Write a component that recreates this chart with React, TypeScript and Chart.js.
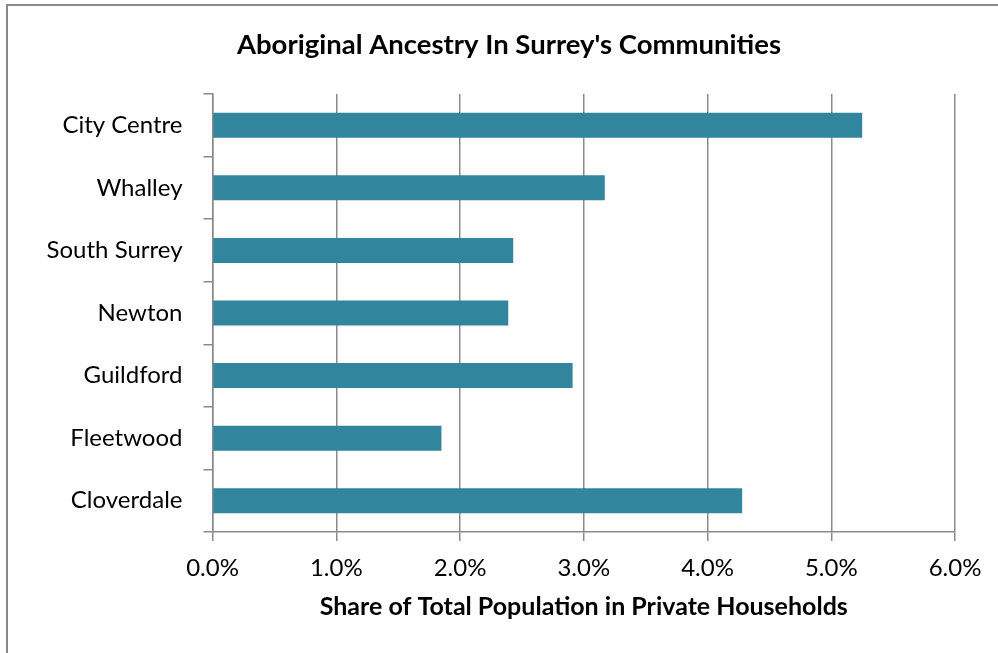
import React, { useEffect, useRef } from "react";
import { Chart, registerables } from "chart.js";

Chart.register(...registerables);

const communities = ["City Centre", "Whalley", "South Surrey", "Newton", "Guildford", "Fleetwood", "Cloverdale"];
const shares = [5.25, 3.17, 2.43, 2.39, 2.91, 1.85, 4.28];
const chartTitle = "Aboriginal Ancestry In Surrey's Communities";
const xAxisTitle = "Share of Total Population in Private Households";
const xMin = 0;
const xMax = 6;
const xStep = 1;

const FONT = "Lato, 'Open Sans', sans-serif";
const GRID = "#8a8a8a";

const frame = {
  id: "frame",
  afterLayout(chart: any) {
    // shift the title's box so that it is centred like the original
    if (chart.titleBlock) {
      chart.titleBlock.left = 63;
    }
  },
  beforeDraw(chart: any) {
    const { ctx, width, height } = chart;
    ctx.save();
    ctx.fillStyle = "#ffffff";
    ctx.fillRect(0, 0, width, height);
    ctx.strokeStyle = "#888888";
    ctx.lineWidth = 2;
    ctx.strokeRect(7, 5, width + 20, height + 20);
    ctx.restore();
  },
};

export default function App() {
  const ref = useRef<HTMLCanvasElement | null>(null);
  useEffect(() => {
    if (!ref.current) return;
    const chart = new Chart(ref.current, {
      type: "bar",
      data: {
        labels: communities,
        datasets: [
          {
            data: shares,
            backgroundColor: "#31859C",
            barPercentage: 0.4,
            categoryPercentage: 1,
          },
        ],
      },
      plugins: [frame],
      options: {
        indexAxis: "y",
        animation: false,
        responsive: true,
        maintainAspectRatio: false,
        layout: { padding: { top: 5, left: 20, right: 43, bottom: 0 } },
        plugins: {
          legend: { display: false },
          tooltip: { enabled: false },
          title: {
            display: true,
            text: chartTitle,
            color: "#000",
            font: { family: FONT, size: 27.5, weight: "bold", lineHeight: 1.2 },
            padding: { top: 23.5, bottom: 32.5 },
          },
        },
        scales: {
          x: {
            min: xMin,
            max: xMax,
            ticks: {
              stepSize: xStep,
              color: "#000",
              padding: 13,
              font: { family: FONT, size: 24 },
              callback: (v: any) => Number(v).toFixed(1) + "%",
            },
            grid: { color: GRID, lineWidth: 1.5, tickLength: 9, drawTicks: true },
            border: { display: true, color: GRID, width: 1.5 },
            title: {
              display: true,
              text: xAxisTitle,
              color: "#000",
              font: { family: FONT, size: 25, weight: "bold", lineHeight: 1.2 },
              padding: { top: 0, bottom: 31 },
            },
            afterFit: (s: any) => {
              s.height = 121;
            },
          },
          y: {
            ticks: {
              color: "#000",
              padding: 21,
              font: { family: FONT, size: 24 },
            },
            grid: { color: GRID, lineWidth: 1.5, tickLength: 9, drawOnChartArea: false, offset: true },
            border: { display: true, color: GRID, width: 1.5 },
            afterFit: (s: any) => {
              s.width = 192.5;
            },
          },
        },
      },
    });
    return () => chart.destroy();
  }, []);
  return (
    <div style={{ position: "fixed", left: 0, top: 0, width: 998, height: 653 }}>
      <canvas ref={ref} />
    </div>
  );
}
